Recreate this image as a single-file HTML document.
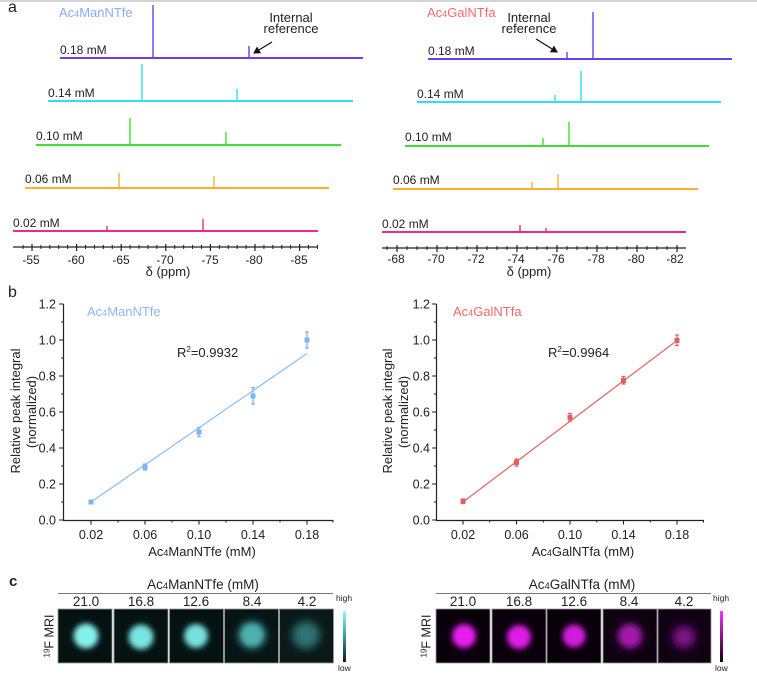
<!DOCTYPE html>
<html><head><meta charset="utf-8"><style>
html,body{margin:0;padding:0;background:#fff;}
svg{display:block;}
text{font-family:"Liberation Sans",Arial,sans-serif;fill:#222;}
</style></head><body>
<svg width="757" height="683" viewBox="0 0 757 683" xmlns="http://www.w3.org/2000/svg">
<defs>
<filter id="bl" x="-50%" y="-50%" width="200%" height="200%"><feGaussianBlur stdDeviation="2.6"/></filter>
<filter id="bl2" x="-50%" y="-50%" width="200%" height="200%"><feGaussianBlur stdDeviation="3.6"/></filter>
<marker id="ah" markerWidth="8" markerHeight="8" refX="6" refY="4" orient="auto" markerUnits="userSpaceOnUse"><path d="M0,0 L7,4 L0,8 Z" fill="#111"/></marker>
<linearGradient id="cb1" x1="0" y1="0" x2="0" y2="1"><stop offset="0" stop-color="#8affff"/><stop offset="0.5" stop-color="#3a9a9a"/><stop offset="1" stop-color="#0a1c1c"/></linearGradient>
<linearGradient id="cb2" x1="0" y1="0" x2="0" y2="1"><stop offset="0" stop-color="#ff30ff"/><stop offset="0.5" stop-color="#8a108a"/><stop offset="1" stop-color="#180018"/></linearGradient>
</defs>
<rect x="0" y="0" width="757" height="2" fill="#d4d4d4"/>

<!-- ===== Panel a ===== -->
<text x="8" y="12" font-size="16">a</text>
<text x="59" y="17" font-size="13" style="fill:#8aacf6">Ac<tspan font-size="9">4</tspan>ManNTfe</text>
<text x="291" y="22" font-size="13" text-anchor="middle">Internal</text>
<text x="291" y="33" font-size="13" text-anchor="middle">reference</text>
<line x1="272" y1="42" x2="254" y2="53" stroke="#111" stroke-width="1.2" marker-end="url(#ah)"/>

<g fill="none" stroke-linecap="butt">
<!-- left traces -->
<g stroke="#6a3ef0"><line x1="60" y1="58" x2="363" y2="58" stroke-width="2"/><path d="M153 58V5M249 58V46" stroke-width="1.4"/></g>
<g stroke="#33def0"><line x1="48" y1="101" x2="353" y2="101" stroke-width="2"/><path d="M142 101V64M237 101V89" stroke-width="1.4"/></g>
<g stroke="#3ee02e"><line x1="36" y1="145" x2="341" y2="145" stroke-width="2"/><path d="M130 145V118M226 145V132" stroke-width="1.4"/></g>
<g stroke="#ffae2a"><line x1="25" y1="188" x2="329" y2="188" stroke-width="2"/><path d="M119 188V173M214 188V176" stroke-width="1.4"/></g>
<g stroke="#f0288a"><line x1="13" y1="231" x2="318" y2="231" stroke-width="2"/><path d="M107 231V226M203 231V219" stroke-width="1.4"/></g>
<!-- right traces -->
<g stroke="#6a3ef0"><line x1="428" y1="59" x2="732" y2="59" stroke-width="2"/><path d="M567 59V52M593 59V12" stroke-width="1.4"/></g>
<g stroke="#33def0"><line x1="417" y1="102" x2="721" y2="102" stroke-width="2"/><path d="M555 102V95M581 102V71" stroke-width="1.4"/></g>
<g stroke="#3ee02e"><line x1="405" y1="146" x2="709" y2="146" stroke-width="2"/><path d="M543 146V138M569 146V122" stroke-width="1.4"/></g>
<g stroke="#ffae2a"><line x1="393" y1="189" x2="698" y2="189" stroke-width="2"/><path d="M532 189V182M558 189V174" stroke-width="1.4"/></g>
<g stroke="#f0288a"><line x1="382" y1="232" x2="686" y2="232" stroke-width="2"/><path d="M520 232V225M546 232V228" stroke-width="1.4"/></g>
</g>

<g font-size="12">
<text x="60" y="54">0.18 mM</text>
<text x="48" y="97">0.14 mM</text>
<text x="36" y="140">0.10 mM</text>
<text x="25" y="183">0.06 mM</text>
<text x="13" y="227">0.02 mM</text>
<text x="428" y="55">0.18 mM</text>
<text x="417" y="98">0.14 mM</text>
<text x="405" y="141">0.10 mM</text>
<text x="393" y="184">0.06 mM</text>
<text x="382" y="228">0.02 mM</text>
</g>

<!-- left a axis -->
<g stroke="#222" fill="none">
<line x1="13" y1="247" x2="318" y2="247" stroke-width="1.3"/>
<path stroke-width="1" d="M23.08 245v4M40.92 245v4M49.84 245v4M58.76 245v4M67.68 245v4M85.52 245v4M94.44 245v4M103.36 245v4M112.28 245v4M130.12 245v4M139.04 245v4M147.96 245v4M156.88 245v4M174.72 245v4M183.64 245v4M192.56 245v4M201.48 245v4M219.32 245v4M228.24 245v4M237.16 245v4M246.08 245v4M263.92 245v4M272.84 245v4M281.76 245v4M290.68 245v4M308.52 245v4M317.44 245v4"/>
<path stroke-width="1.2" d="M32 244v7M76.6 244v7M121.2 244v7M165.8 244v7M210.4 244v7M255 244v7M299.6 244v7"/>
</g>
<g font-size="12" text-anchor="middle">
<text x="31" y="264">-55</text><text x="76" y="264">-60</text><text x="121" y="264">-65</text><text x="165" y="264">-70</text><text x="210" y="264">-75</text><text x="254" y="264">-80</text><text x="299" y="264">-85</text>
</g>
<text x="168" y="276" font-size="13" text-anchor="middle">δ (ppm)</text>

<!-- right a -->
<text x="427" y="17" font-size="13" style="fill:#f26a72">Ac<tspan font-size="9">4</tspan>GalNTfa</text>
<text x="529" y="22" font-size="13" text-anchor="middle">Internal</text>
<text x="529" y="33" font-size="13" text-anchor="middle">reference</text>
<line x1="536" y1="39" x2="557" y2="52" stroke="#111" stroke-width="1.2" marker-end="url(#ah)"/>
<g stroke="#222" fill="none">
<line x1="382" y1="248" x2="686" y2="248" stroke-width="1.3"/>
<path stroke-width="1" d="M387 246v4M407 246v4M417 246v4M427 246v4M447 246v4M457 246v4M467 246v4M487 246v4M497 246v4M507 246v4M527 246v4M537 246v4M547 246v4M567 246v4M577 246v4M587 246v4M607 246v4M617 246v4M627 246v4M647 246v4M657 246v4M667 246v4"/>
<path stroke-width="1.2" d="M397 245v7M437 245v7M477 245v7M517 245v7M557 245v7M597 245v7M637 245v7M677 245v7"/>
</g>
<g font-size="12" text-anchor="middle">
<text x="396" y="263">-68</text><text x="436" y="263">-70</text><text x="476" y="263">-72</text><text x="516" y="263">-74</text><text x="556" y="263">-76</text><text x="596" y="263">-78</text><text x="636" y="263">-80</text><text x="675" y="263">-82</text>
</g>
<text x="529" y="276" font-size="13" text-anchor="middle">δ (ppm)</text>

<!-- ===== Panel b ===== -->
<text x="8" y="297" font-size="16">b</text>
<!-- left b axes -->
<g stroke="#222" fill="none">
<path d="M63.5 304V520.5H333" stroke-width="1.2"/>
<path stroke-width="1.1" d="M59 304h4.5M59 340h4.5M59 376h4.5M59 412h4.5M59 448h4.5M59 484h4.5M59 520h4.5"/>
<path stroke-width="1" d="M61 322h2.5M61 358h2.5M61 394h2.5M61 430h2.5M61 466h2.5M61 502h2.5"/>
<path stroke-width="1.1" d="M91 520v4.5M145 520v4.5M199 520v4.5M253 520v4.5M307 520v4.5"/>
<path stroke-width="1" d="M118 520v2.5M172 520v2.5M226 520v2.5M280 520v2.5M333 520v2.5"/>
</g>
<g font-size="12.5" text-anchor="end">
<text x="56" y="308.5">1.2</text><text x="56" y="344.5">1.0</text><text x="56" y="380.5">0.8</text><text x="56" y="416.5">0.6</text><text x="56" y="452.5">0.4</text><text x="56" y="488.5">0.2</text><text x="56" y="524.5">0.0</text>
</g>
<g font-size="12.5" text-anchor="middle">
<text x="91" y="539">0.02</text><text x="145" y="539">0.06</text><text x="199" y="539">0.10</text><text x="253" y="539">0.14</text><text x="307" y="539">0.18</text>
</g>
<text x="202" y="556" font-size="13" text-anchor="middle">Ac<tspan font-size="9">4</tspan>ManNTfe (mM)</text>
<text transform="translate(20,411) rotate(-90)" font-size="13" text-anchor="middle">Relative peak integral</text>
<text transform="translate(36,412) rotate(-90)" font-size="13" text-anchor="middle">(normalized)</text>
<text x="87" y="316" font-size="13" style="fill:#8ab8f6">Ac<tspan font-size="9">4</tspan>ManNTfe</text>
<text x="177" y="357" font-size="13">R<tspan font-size="8" dy="-5">2</tspan><tspan dy="5">=0.9932</tspan></text>
<line x1="91" y1="502" x2="307" y2="353.5" stroke="#8cc0f4" stroke-width="1.3"/>
<g stroke="#78b6f4" stroke-width="1.2" fill="none">
<path d="M91 500.5v3M89 500.5h4M89 503.5h4"/>
<path d="M145 464v6M143 464h4M143 470h4"/>
<path d="M199 427.5v9M197 427.5h4M197 436.5h4"/>
<path d="M253 387.5v16.5M251 387.5h4M251 404h4"/>
<path d="M307 332v16M305 332h4M305 348h4"/>
</g>
<g fill="#78b6f4">
<rect x="88.5" y="499.5" width="5" height="5"/>
<rect x="142.5" y="464.5" width="5" height="5"/>
<rect x="196.5" y="429.5" width="5" height="5"/>
<rect x="250.5" y="393.5" width="5" height="5"/>
<rect x="304.5" y="337.5" width="5" height="5"/>
</g>

<!-- right b -->
<g stroke="#222" fill="none">
<path d="M436.5 304V520.5H704" stroke-width="1.2"/>
<path stroke-width="1.1" d="M432 304h4.5M432 340h4.5M432 376h4.5M432 412h4.5M432 448h4.5M432 484h4.5M432 520h4.5"/>
<path stroke-width="1" d="M434 322h2.5M434 358h2.5M434 394h2.5M434 430h2.5M434 466h2.5M434 502h2.5"/>
<path stroke-width="1.1" d="M463 520v4.5M516.5 520v4.5M570 520v4.5M623.5 520v4.5M677 520v4.5"/>
<path stroke-width="1" d="M489.75 520v2.5M543.25 520v2.5M596.75 520v2.5M650.25 520v2.5M703.5 520v2.5"/>
</g>
<g font-size="12.5" text-anchor="end">
<text x="430" y="308.5">1.2</text><text x="430" y="344.5">1.0</text><text x="430" y="380.5">0.8</text><text x="430" y="416.5">0.6</text><text x="430" y="452.5">0.4</text><text x="430" y="488.5">0.2</text><text x="430" y="524.5">0.0</text>
</g>
<g font-size="12.5" text-anchor="middle">
<text x="463" y="539">0.02</text><text x="516.5" y="539">0.06</text><text x="570" y="539">0.10</text><text x="623.5" y="539">0.14</text><text x="677" y="539">0.18</text>
</g>
<text x="583" y="556" font-size="13" text-anchor="middle">Ac<tspan font-size="9">4</tspan>GalNTfa (mM)</text>
<text transform="translate(392,411) rotate(-90)" font-size="13" text-anchor="middle">Relative peak integral</text>
<text transform="translate(408,412) rotate(-90)" font-size="13" text-anchor="middle">(normalized)</text>
<text x="453" y="316" font-size="13" style="fill:#f06868">Ac<tspan font-size="9">4</tspan>GalNTfa</text>
<text x="548" y="357" font-size="13">R<tspan font-size="8" dy="-5">2</tspan><tspan dy="5">=0.9964</tspan></text>
<line x1="463" y1="502" x2="677" y2="340.5" stroke="#e86a6a" stroke-width="1.3"/>
<g stroke="#e06060" stroke-width="1.2" fill="none">
<path d="M463 499v4.5M461 499h4M461 503.5h4"/>
<path d="M516.5 459v7M514.5 459h4M514.5 466h4"/>
<path d="M570 413.5v7.5M568 413.5h4M568 421h4"/>
<path d="M623.5 376.5v7.5M621.5 376.5h4M621.5 384h4"/>
<path d="M677 335v10.5M675 335h4M675 345.5h4"/>
</g>
<g fill="#e06060">
<rect x="460.5" y="498.6" width="5" height="5"/>
<rect x="514" y="459.9" width="5" height="5"/>
<rect x="567.5" y="414.9" width="5" height="5"/>
<rect x="621" y="378" width="5" height="5"/>
<rect x="674.5" y="337.9" width="5" height="5"/>
</g>

<!-- ===== Panel c ===== -->
<text x="9" y="586" font-size="15" font-weight="bold">c</text>
<text x="203" y="589" font-size="13.5" text-anchor="middle">Ac<tspan font-size="9.5">4</tspan>ManNTfe (mM)</text>
<line x1="58" y1="593.5" x2="333" y2="593.5" stroke="#777" stroke-width="1"/>
<g font-size="13.5" text-anchor="middle">
<text x="86" y="606">21.0</text><text x="141" y="606">16.8</text><text x="196" y="606">12.6</text><text x="252" y="606">8.4</text><text x="307" y="606">4.2</text>
</g>
<text transform="translate(53.5,636) rotate(-90)" font-size="12.5" text-anchor="middle"><tspan font-size="8" dy="-4">19</tspan><tspan dy="4">F MRI</tspan></text>
<g stroke="#9a9a9a" stroke-width="0.8">
<rect x="58" y="609" width="54" height="54" fill="#041212"/>
<rect x="114" y="609" width="54" height="54" fill="#041212"/>
<rect x="169.5" y="609" width="54" height="54" fill="#041212"/>
<rect x="224.5" y="609" width="54" height="54" fill="#061414"/>
<rect x="279.5" y="609" width="54" height="54" fill="#0a1a1a"/>
</g>
<g>
<circle cx="86" cy="636" r="12.5" fill="#84f0ec" filter="url(#bl)"/>
<circle cx="141" cy="637" r="12.5" fill="#78e4e0" filter="url(#bl)"/>
<circle cx="196" cy="636" r="12" fill="#76e0dc" filter="url(#bl)"/>
<circle cx="252" cy="635" r="16" fill="#1c4444" filter="url(#bl2)"/>
<circle cx="252" cy="635" r="12" fill="#4cb0ae" filter="url(#bl)"/>
<circle cx="306" cy="635" r="15" fill="#1e4a4a" filter="url(#bl2)"/>
<circle cx="306" cy="635" r="11" fill="#2f7674" filter="url(#bl2)"/>
</g>
<rect x="343" y="611" width="3" height="51" fill="url(#cb1)"/>
<text x="336" y="601" font-size="8.5">high</text>
<text x="338" y="671" font-size="8.5">low</text>

<text x="582" y="589" font-size="13.5" text-anchor="middle">Ac<tspan font-size="9.5">4</tspan>GalNTfa (mM)</text>
<line x1="436" y1="593.5" x2="711" y2="593.5" stroke="#777" stroke-width="1"/>
<g font-size="13.5" text-anchor="middle">
<text x="463" y="606">21.0</text><text x="519" y="606">16.8</text><text x="574" y="606">12.6</text><text x="629" y="606">8.4</text><text x="684" y="606">4.2</text>
</g>
<text transform="translate(430.5,636) rotate(-90)" font-size="12.5" text-anchor="middle"><tspan font-size="8" dy="-4">19</tspan><tspan dy="4">F MRI</tspan></text>
<g stroke="#9a9a9a" stroke-width="0.8">
<rect x="436" y="609" width="54" height="54" fill="#0a000c"/>
<rect x="492" y="609" width="54" height="54" fill="#0a000c"/>
<rect x="547" y="609" width="54" height="54" fill="#0a000c"/>
<rect x="603" y="609" width="54" height="54" fill="#0e0210"/>
<rect x="658" y="609" width="53" height="54" fill="#100212"/>
</g>
<g>
<circle cx="464" cy="636" r="12" fill="#e61ef0" filter="url(#bl)"/>
<circle cx="519" cy="637" r="12" fill="#de1ee8" filter="url(#bl)"/>
<circle cx="574" cy="636" r="11.5" fill="#d21adc" filter="url(#bl)"/>
<circle cx="630" cy="636" r="15" fill="#3e0844" filter="url(#bl2)"/>
<circle cx="630" cy="636" r="11" fill="#a416ac" filter="url(#bl)"/>
<circle cx="684" cy="637" r="14" fill="#30063a" filter="url(#bl2)"/>
<circle cx="684" cy="637" r="10" fill="#781280" filter="url(#bl2)"/>
</g>
<rect x="720" y="611" width="3" height="51" fill="url(#cb2)"/>
<text x="713" y="601" font-size="8.5">high</text>
<text x="715" y="671" font-size="8.5">low</text>
</svg>
</body></html>
